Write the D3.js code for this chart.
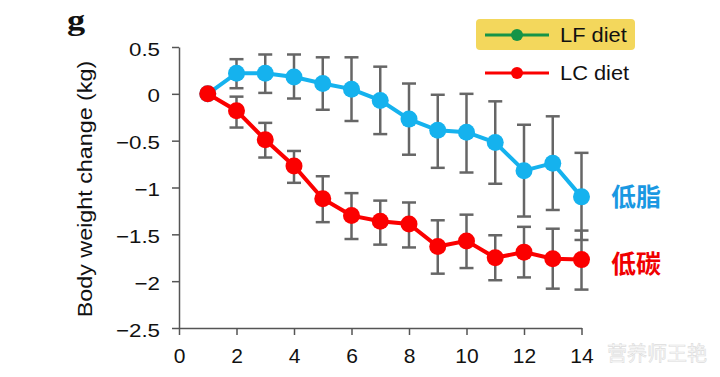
<!DOCTYPE html>
<html><head><meta charset="utf-8">
<script src="https://cdn.jsdelivr.net/npm/d3@7"></script>
<style>body{margin:0;background:#fff}svg{display:block}</style>
</head><body>
<svg id="c" width="720" height="377"></svg>
<script>
const days = [1,2,3,4,5,6,7,8,9,10,11,12,13,14];
const lfMean = [0,0.22,0.22,0.18,0.11,0.05,-0.07,-0.27,-0.39,-0.41,-0.52,-0.82,-0.74,-1.10];
const lfUpper = [null,0.37,0.42,0.42,0.39,0.39,0.29,0.11,-0.01,0.00,-0.08,-0.33,-0.24,-0.63];
const lfLower = [null,0.06,0.01,-0.05,-0.17,-0.29,-0.43,-0.65,-0.79,-0.84,-0.96,-1.31,-1.24,-1.56];
const lcMean = [0,-0.18,-0.49,-0.77,-1.12,-1.30,-1.36,-1.39,-1.63,-1.57,-1.75,-1.69,-1.76,-1.77];
const lcUpper = [null,-0.03,-0.31,-0.61,-0.88,-1.06,-1.14,-1.16,-1.35,-1.29,-1.51,-1.42,-1.44,-1.46];
const lcLower = [null,-0.36,-0.68,-0.95,-1.37,-1.55,-1.61,-1.64,-1.92,-1.86,-1.99,-1.96,-2.08,-2.09];
const xTicks = [0,2,4,6,8,10,12,14];
const yTicks = [0.5,0,-0.5,-1,-1.5,-2,-2.5];
const legendLabels = ["LF diet","LC diet"];

const svg = d3.select("#c");
const x = d3.scaleLinear().domain([0,14]).range([179,581.5]);
const y = d3.scaleLinear().domain([-2.5,0.5]).range([328,47]);
const font = "Liberation Sans, Arial, sans-serif";
const fmt = v => (v<0 ? "\u2212" : "") + Math.abs(v);

// x axis
const gx = svg.append("g").attr("transform","translate(0,328)")
  .call(d3.axisBottom(x).tickValues(xTicks).tickSize(7).tickPadding(13).tickSizeOuter(0));
gx.selectAll("text").attr("font-family",font).attr("font-size",21).attr("fill","#111");

// y axis (labels drawn separately so they can be widened)
const gy = svg.append("g").attr("transform","translate(179,0)")
  .call(d3.axisLeft(y).tickValues(yTicks).tickSize(7).tickFormat("").tickSizeOuter(0));
[gx,gy].forEach(g=>g.selectAll("path,line").attr("stroke","#555").attr("stroke-width",1.5));
const sx = 1.2;
svg.append("g").selectAll("text").data(yTicks).join("text")
  .attr("transform", d=>`translate(160,${y(d)+8.5}) scale(${sx},1)`)
  .attr("text-anchor","end").attr("font-family",font).attr("font-size",18.6).attr("fill","#111")
  .text(fmt);

svg.append("text").attr("transform","translate(92,189) rotate(-90) scale(1.11,1)")
  .attr("text-anchor","middle").attr("font-family",font).attr("font-size",21).attr("fill","#111")
  .text("Body weight change (kg)");

svg.append("text").attr("transform","translate(67,30) scale(1.25,1)").attr("font-family","Liberation Serif, serif")
  .attr("font-weight","bold").attr("font-size",29).attr("fill","#111").text("g");

const blue = "#15b2ee", red = "#fb0000";
function series(mean, up, lo, color){
  const pts = days.map((d,i)=>({d, m:mean[i], u:up[i], l:lo[i]}));
  const eb = svg.append("g").attr("stroke","#666").attr("stroke-width",2.5);
  pts.filter(p=>p.u!==null).forEach(p=>{
    eb.append("line").attr("x1",x(p.d)).attr("x2",x(p.d)).attr("y1",y(p.u)).attr("y2",y(p.l));
    eb.append("line").attr("x1",x(p.d)-7).attr("x2",x(p.d)+7).attr("y1",y(p.u)).attr("y2",y(p.u));
    eb.append("line").attr("x1",x(p.d)-7).attr("x2",x(p.d)+7).attr("y1",y(p.l)).attr("y2",y(p.l));
  });
  svg.append("path").datum(pts).attr("fill","none").attr("stroke",color).attr("stroke-width",4)
    .attr("d", d3.line().x(p=>x(p.d)).y(p=>y(p.m)));
  svg.append("g").selectAll("circle").data(pts).join("circle")
    .attr("cx",p=>x(p.d)).attr("cy",p=>y(p.m)).attr("r",8.5).attr("fill",color);
}
series(lfMean, lfUpper, lfLower, blue);
series(lcMean, lcUpper, lcLower, red);

// legend
svg.append("rect").attr("x",476).attr("y",19).attr("width",159).attr("height",31).attr("rx",4)
  .attr("fill","#f3d75c");
const legColors = ["#169447", red];
legendLabels.forEach((t,i)=>{
  const cy = 35 + i*38;
  svg.append("line").attr("x1",485).attr("x2",549).attr("y1",cy).attr("y2",cy)
    .attr("stroke",legColors[i]).attr("stroke-width",3);
  svg.append("circle").attr("cx",517).attr("cy",cy).attr("r",6).attr("fill",legColors[i]);
  svg.append("text").attr("transform",`translate(560,${cy+7}) scale(1.12,1)`).attr("font-family",font).attr("font-size",19.5)
    .attr("fill","#111").text(t);
});

svg.append("text").attr("x",611).attr("y",206).attr("font-family","Noto Sans CJK SC, sans-serif")
  .attr("font-weight","bold").attr("font-size",25).attr("fill","#1a98e2").text("低脂");
svg.append("text").attr("x",611).attr("y",273).attr("font-family","Noto Sans CJK SC, sans-serif")
  .attr("font-weight","bold").attr("font-size",25).attr("fill","#f00000").text("低碳");

svg.append("text").attr("x",607).attr("y",361).attr("font-family","Noto Sans CJK SC, sans-serif")
  .attr("font-size",20).attr("fill","#fafafa").attr("stroke","#dcdcdc").attr("stroke-width",0.6)
  .text("营养师王艳");
</script>
</body></html>
